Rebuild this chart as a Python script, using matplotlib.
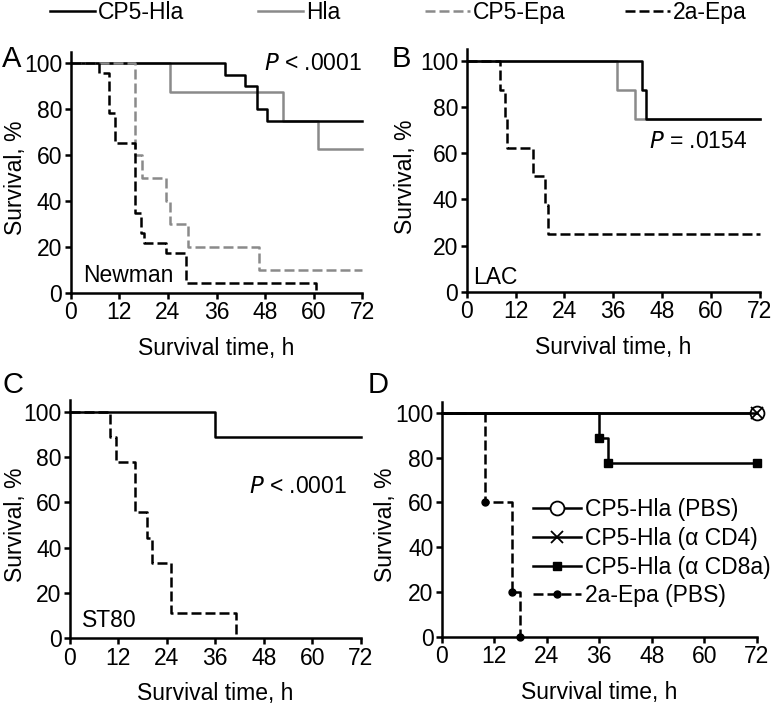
import numpy as np
import matplotlib.pyplot as plt

plt.rcParams['font.family'] = ['Liberation Sans', 'DejaVu Sans']
plt.rcParams['font.size'] = 16.5

hours = [0, 12, 24, 36, 48, 60, 72]
pct = [0, 20, 40, 60, 80, 100]

# panel A, Newman
a_cp5hla_t = [0, 38, 43, 46, 48.5, 72]
a_cp5hla_s = [100, 95, 90, 80, 75, 75]
a_hla_t = [0, 24.5, 52.5, 61, 72]
a_hla_s = [100, 87.5, 75, 62.5, 62.5]
a_cp5epa_t = [0, 16, 17.5, 23.5, 24.5, 29, 46.5, 72]
a_cp5epa_s = [100, 60, 50, 40, 30, 20, 10, 10]
a_2aepa_t = [0, 7, 9.5, 11, 16, 17.3, 18, 23.5, 28.5, 60.5]
a_2aepa_s = [100, 95.7, 78.3, 65.2, 34.8, 26.1, 21.7, 17.4, 4.3, 0]

# panel B, LAC
b_cp5hla_t = [0, 43, 44, 72]
b_cp5hla_s = [100, 87.5, 75, 75]
b_hla_t = [0, 37, 41.3, 72]
b_hla_s = [100, 87.5, 75, 75]
b_2aepa_t = [0, 8.2, 9.4, 9.9, 16.2, 19.2, 20, 72]
b_2aepa_s = [100, 87.5, 75, 62.5, 50, 37.5, 25, 25]

# panel C, ST80
c_cp5hla_t = [0, 36, 72]
c_cp5hla_s = [100, 88.9, 88.9]
c_2aepa_t = [0, 10, 11.5, 16, 16.2, 19, 20.2, 25, 41]
c_2aepa_s = [100, 88.9, 77.8, 66.7, 55.6, 44.4, 33.3, 11.1, 0]

# panel D, depletion
d_pbs_t = [0, 72]
d_pbs_s = [100, 100]
d_cd4_t = [0, 72]
d_cd4_s = [100, 100]
d_cd8_t = [0, 36, 38, 72]
d_cd8_s = [100, 88.9, 77.8, 77.8]
d_2aepa_t = [0, 10, 16, 18]
d_2aepa_s = [100, 60, 20, 0]

GRAY = '#8a8a8a'
LW = 1.8
DASH = (4, 1.6)


def style_axes(ax, ylab_x):
    for side in ['top', 'right']:
        ax.spines[side].set_visible(False)
    for side in ['left', 'bottom']:
        ax.spines[side].set_linewidth(LW)
    ax.set_xlim(0, 72)
    ax.set_ylim(0, 105)
    ax.set_xticks(hours)
    ax.set_yticks(pct)
    ax.tick_params(direction='out', length=4, width=LW, pad=2)
    ax.set_xlabel('Survival time, h', labelpad=9)
    ax.set_ylabel('Survival, %')
    ax.yaxis.set_label_coords(ylab_x, 100 / 210)


fig = plt.figure(figsize=(7.8, 7.18), dpi=100)
axA = fig.add_axes([0.0906, 0.5923, 0.374, 0.3356])
axB = fig.add_axes([0.5983, 0.5937, 0.376, 0.3374])
axC = fig.add_axes([0.0897, 0.1110, 0.3727, 0.3313])
axD = fig.add_axes([0.5663, 0.1132, 0.404, 0.3273])

# A
l1, = axA.step(a_hla_t, a_hla_s, where='post', color=GRAY, lw=LW, label='Hla', clip_on=False)
l0, = axA.step(a_cp5hla_t, a_cp5hla_s, where='post', color='black', lw=LW, label='CP5-Hla', clip_on=False)
l2, = axA.step(a_cp5epa_t, a_cp5epa_s, where='post', color=GRAY, lw=LW, dashes=DASH, label='CP5-Epa', clip_on=False)
l3, = axA.step(a_2aepa_t, a_2aepa_s, where='post', color='black', lw=LW, dashes=DASH, label='2a-Epa', clip_on=False)
axA.text(72, 100, r'$\it{P}$ < .0001', ha='right', va='center')
axA.text(3, 7.5, 'Newman', ha='left', va='center')

# B
axB.step(b_hla_t, b_hla_s, where='post', color=GRAY, lw=LW, clip_on=False)
axB.step(b_cp5hla_t, b_cp5hla_s, where='post', color='black', lw=LW, clip_on=False)
axB.step(b_2aepa_t, b_2aepa_s, where='post', color='black', lw=LW, dashes=DASH, clip_on=False)
axB.text(69, 65, r'$\it{P}$ = .0154', ha='right', va='center')
axB.text(1.5, 6, 'LAC', ha='left', va='center')

# C
axC.step(c_cp5hla_t, c_cp5hla_s, where='post', color='black', lw=LW, clip_on=False)
axC.step(c_2aepa_t, c_2aepa_s, where='post', color='black', lw=LW, dashes=DASH, clip_on=False)
axC.text(68.6, 67, r'$\it{P}$ < .0001', ha='right', va='center')
axC.text(3, 8, 'ST80', ha='left', va='center')

# D
axD.step(d_pbs_t, d_pbs_s, where='post', color='black', lw=LW, marker='o', ms=10,
         mfc='white', mec='black', mew=1.3, markevery=[1], label='CP5-Hla (PBS)', clip_on=False)
axD.step(d_cd4_t, d_cd4_s, where='post', color='black', lw=LW, marker='x', ms=8,
         mew=1.3, markevery=[1], label='CP5-Hla (\u03b1 CD4)', clip_on=False)
axD.step(d_cd8_t, d_cd8_s, where='post', color='black', lw=LW, marker='s', ms=6,
         markevery=[1, 2, 3], label='CP5-Hla (\u03b1 CD8a)', clip_on=False)
axD.step(d_2aepa_t, d_2aepa_s, where='post', color='black', lw=LW, dashes=DASH, marker='o', ms=5,
         markevery=[1, 2, 3], label='2a-Epa (PBS)', clip_on=False)
axD.legend(loc='upper left', bbox_to_anchor=(0.29, 0.59), frameon=False, borderpad=0,
           borderaxespad=0, handlelength=2.1, handletextpad=0.15, labelspacing=0.25,
           numpoints=1)

style_axes(axA, -0.150)
style_axes(axB, -0.169)
style_axes(axC, -0.148)
style_axes(axD, -0.142)

# panel letters
fig.text(0.003, 0.9067, 'A', fontsize=21, ha='left', va='baseline')
fig.text(0.502, 0.9067, 'B', fontsize=21, ha='left', va='baseline')
fig.text(0.003, 0.4526, 'C', fontsize=21, ha='left', va='baseline')
fig.text(0.471, 0.4526, 'D', fontsize=21, ha='left', va='baseline')

# top legend, one entry per slot
top_x = [50, 258, 425, 625]
for handle, x in zip([l0, l1, l2, l3], top_x):
    fig.legend(handles=[handle], loc='upper left', bbox_to_anchor=(x / 780, 0.999),
               frameon=False, borderpad=0, borderaxespad=0, handlelength=1.95,
               handletextpad=0.13)

fig.savefig('out.png', dpi=100)
